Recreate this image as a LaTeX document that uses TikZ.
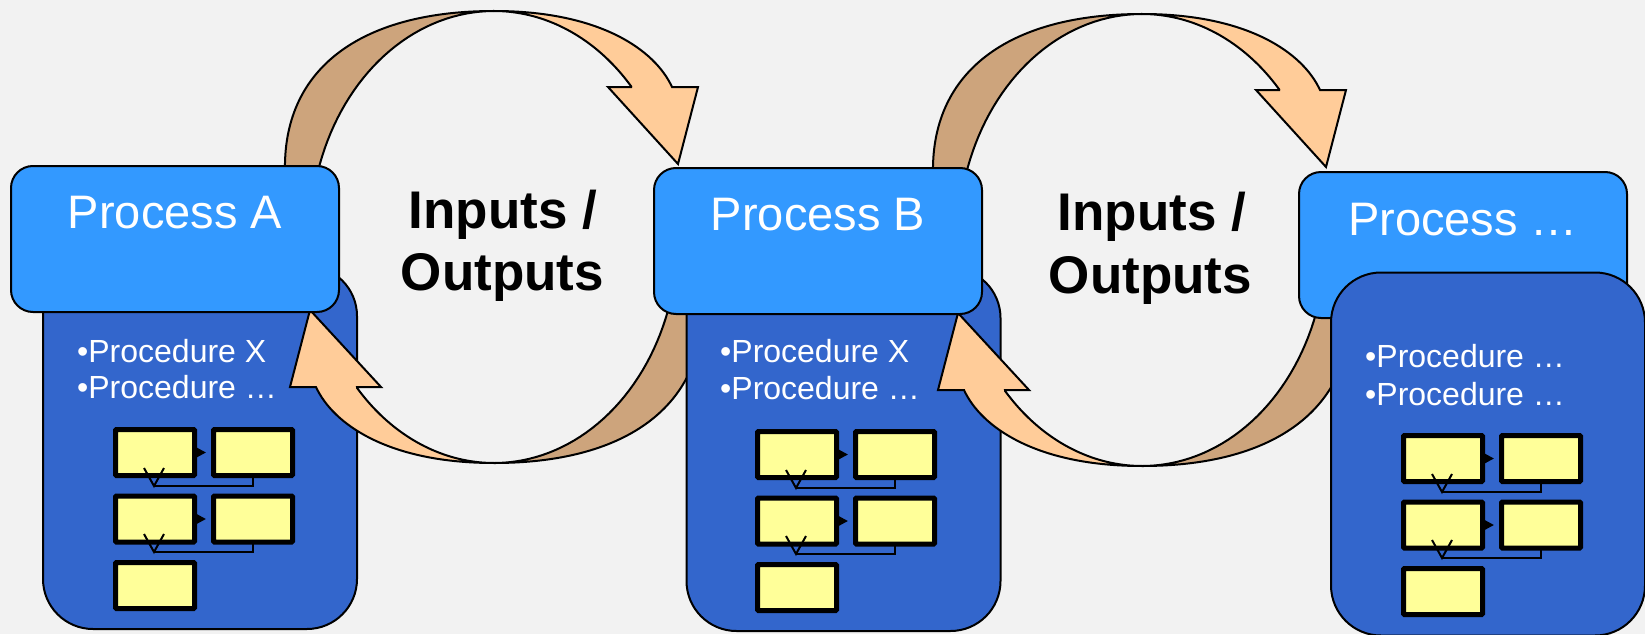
\documentclass[tikz,border=0pt]{standalone}
\usepackage{fontspec}
\setmainfont{Liberation Sans}
\usetikzlibrary{arrows.meta}
\definecolor{bgc}{HTML}{F2F2F2}
\definecolor{hdrc}{HTML}{3399FF}
\definecolor{bodyc}{HTML}{3366CC}
\definecolor{notec}{HTML}{FFFF99}
\definecolor{peachc}{HTML}{FFCC99}
\definecolor{tanc}{RGB}{205,164,124}
\tikzset{
 hdrbox/.style={draw=black, line width=2pt, fill=hdrc, rounded corners=22pt, inner sep=0pt, outer sep=0pt, minimum width=328pt, minimum height=146pt},
 bodybox/.style={draw=black, line width=2pt, fill=bodyc, rounded corners=50pt, inner sep=0pt, outer sep=0pt, minimum width=314pt, minimum height=363pt},
 notebox/.style={draw=black, line width=5pt, fill=notec, inner sep=0pt, outer sep=0pt, minimum width=79pt, minimum height=46pt, rounded corners=1pt},
 conn/.style={draw=black, line width=2pt},
 tanface/.style={fill=tanc, draw=black, line width=2pt, line join=round},
 peachface/.style={fill=peachc, draw=black, line width=2pt, line join=miter},
 title/.style={text=white, font=\fontsize{47}{56}\selectfont, inner sep=0pt, anchor=base},
 proc/.style={text=white, font=\fontsize{32}{38}\selectfont, inner sep=0pt, anchor=base west},
 io/.style={text=black, font=\fontsize{53}{62}\selectfont\bfseries, inner sep=0pt, anchor=base},
}
\newcommand\flowset[3]{%
\begin{scope}[shift={(#2,#3)}]
\node[notebox] (#1n1) at (155,452.5) {};
\node[notebox] (#1n2) at (253,452.5) {};
\node[notebox] (#1n3) at (155,519) {};
\node[notebox] (#1n4) at (253,519) {};
\node[notebox] (#1n5) at (155,585.5) {};
\coordinate (#1v1) at (154,486);
\coordinate (#1v1a) at (144,468);
\coordinate (#1v1b) at (164,468);
\coordinate (#1v2) at (154,552);
\coordinate (#1v2a) at (144,534);
\coordinate (#1v2b) at (164,534);
\draw[conn,-{Triangle[length=9pt,width=9pt]},shorten >=7.5pt] (#1n1.east) -- (#1n2.west);
\draw[conn,-{Triangle[length=9pt,width=9pt]},shorten >=7.5pt] (#1n3.east) -- (#1n4.west);
\draw[conn] (#1n2.south) |- (#1v1);
\draw[conn] (#1n4.south) |- (#1v2);
\draw[conn,line join=miter] (#1v1a) -- (#1v1) -- (#1v1b);
\draw[conn,line join=miter] (#1v2a) -- (#1v2) -- (#1v2b);
\end{scope}}
\newcommand\ioloop[2]{%
\begin{scope}[shift={(#1,#2)}]
% back face, top left
\filldraw[tanface] (283,215) -- (285,163) .. controls (287,65) and (365,11) .. (494,11)
  -- plot[domain=-90:-174, samples=40] ({494+184*cos(\x)},{237+226*sin(\x)}) -- cycle;
% back face, bottom right
\filldraw[tanface] (705,259) -- (703,311) .. controls (701,409) and (623,463) .. (494,463)
  -- plot[domain=90:6, samples=40] ({494+184*cos(\x)},{237+226*sin(\x)}) -- cycle;
% front face, top right arrow
\filldraw[peachface] (494,11) .. controls (600,11) and (655,50) .. (672,87)
  -- (698,87) -- (678,164) -- (608,87) -- (632,87)
  -- plot[domain=-41.6:-90, samples=40] ({494+184*cos(\x)},{237+226*sin(\x)}) -- cycle;
% front face, bottom left arrow
\filldraw[peachface] (310,310) -- (381,387) -- (357,387)
  -- plot[domain=138.1:90, samples=40] ({494+184*cos(\x)},{237+226*sin(\x)})
  .. controls (388,463) and (333,424) .. (316,387)
  -- (290,387) -- cycle;
\end{scope}}
\begin{document}
\begin{tikzpicture}[x=1pt,y=-1pt]
\fill[bgc] (0,0) rectangle (1645,634);
\useasboundingbox (0,0) rectangle (1645,634);
% group A
\node[bodybox] (bodyA) at (200,447.5) {};
\node[proc] (pa1) at (77,362) {•Procedure X};
\node[proc] (pa2) at (77,398) {•Procedure …};
\flowset{a}{0}{0}
\ioloop{0}{0}
\node[hdrbox] (hdrA) at (175,239) {};
\node[title] (ta) at (175,228) {Process A};
% group B
\node[bodybox] (bodyB) at (843.5,449.5) {};
\node[proc] (pb1) at (720,362) {•Procedure X};
\node[proc] (pb2) at (720,399) {•Procedure …};
\flowset{b}{642}{2}
\ioloop{648}{3}
\node[hdrbox] (hdrB) at (818,241) {};
\node[title] (tb) at (818,230) {Process B};
% group C
\node[hdrbox] (hdrC) at (1463,245) {};
\node[title] (tc) at (1463,235) {Process …};
\node[bodybox] (bodyC) at (1488,454) {};
\node[proc] (pc1) at (1365,367) {•Procedure …};
\node[proc] (pc2) at (1365,405) {•Procedure …};
\flowset{c}{1288}{6}
% loop labels
\node[io] (io1a) at (503,228) {Inputs /};
\node[io] (io1b) at (502.5,290) {Outputs};
\node[io] (io2a) at (1152,230) {Inputs /};
\node[io] (io2b) at (1150.5,293) {Outputs};
\end{tikzpicture}
\end{document}
